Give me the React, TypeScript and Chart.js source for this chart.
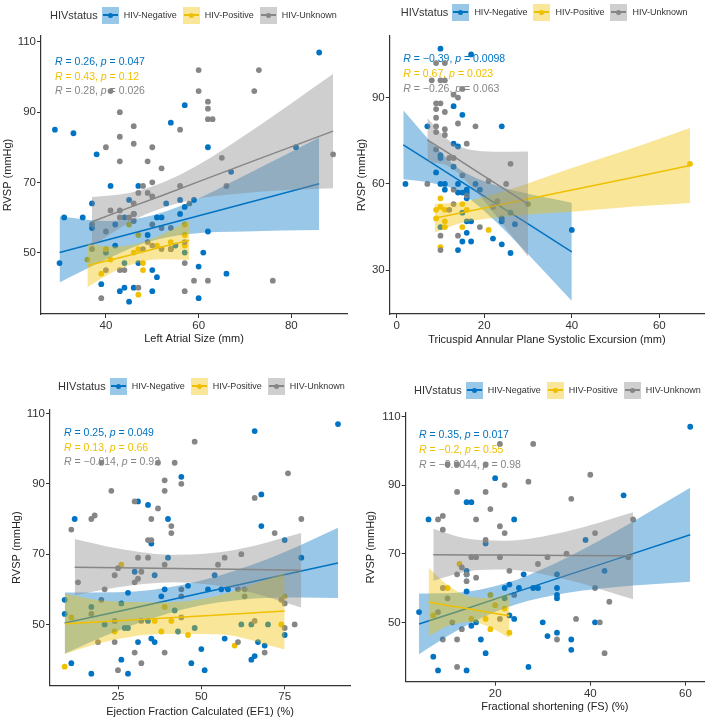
import React, { useEffect, useRef } from 'react';
import { Chart, registerables } from 'chart.js';
Chart.register(...registerables);

const FONT = '"Liberation Sans", Arial, sans-serif';
Chart.defaults.font.family = FONT;

const BLUE = '#0073C2';
const YELLOW = '#EFC000';
const GRAY = '#868686';
const BLUE_FILL = 'rgba(0,115,194,0.4)';
const YELLOW_FILL = 'rgba(239,192,0,0.4)';
const GRAY_FILL = 'rgba(134,134,134,0.4)';

const groupLabels = ['HIV-Negative', 'HIV-Positive', 'HIV-Unknown'];

// ---------- Panel 1: Left Atrial Size ----------
const p1Neg = [[29,85],[33,84],[38,78],[57,92],[54,87],[62,80],[86,107],[81,80],[67,73],[41,69],[47,69],[37,64],[31,60],[35,60],[45,65],[46,61],[44,60],[51,60],[52,60],[53,64],[56,65],[56,61],[59,65],[57,63],[62,56],[42,58],[37,57],[40,50],[49,55],[30,47],[47,47],[57,50],[61,50],[60,46],[50,45],[51,43],[66,44],[39,41],[44,40],[46,40],[43,39],[50,39],[45,36],[60,37],[42,52],[44,47],[54,51],[55,52]];
const p1Pos = [[45,58],[57,58],[57,55],[57,52],[47,55],[51,52],[40,51],[41,48],[47,51],[48,47],[39,44],[48,45],[47,38],[36,48],[54,53],[46,50]];
const p1Unk = [[60,102],[73,102],[60,96],[72,96],[41,96],[43,90],[62,93],[62,91],[62,88],[63,88],[56,85],[46,86],[43,83],[46,81],[40,80],[50,80],[43,76],[49,76],[52,74],[65,77],[89,78],[48,69],[50,70],[56,69],[66,69],[47,67],[49,67],[50,66],[46,64],[41,62],[43,62],[43,60],[45,60],[46,59],[40,56],[50,58],[52,57],[54,57],[37,58],[37,51],[48,51],[49,53],[50,52],[52,51],[54,51],[57,53],[40,45],[43,45],[44,45],[57,47],[59,42],[62,42],[76,42],[47,40],[39,37],[57,39],[46,61],[58,64]];
const p1NegFitX = [30, 40, 48, 58, 70, 86];
const p1NegFitY = [50, 53.5, 56.3, 59.8, 64, 69.6];
const p1NegLo = [41.5, 48.0, 52.6, 55.3, 56.0, 56.4];
const p1NegHi = [60.3, 59.0, 60.0, 64.3, 72.0, 82.8];
const p1PosFitX = [36, 41, 47, 52, 58];
const p1PosFitY = [46.3, 47.9, 49.9, 51.6, 53.5];
const p1PosLo = [40.1, 44.1, 47.2, 48.1, 47.9];
const p1PosHi = [52.5, 51.7, 52.6, 55.1, 59.1];
const p1UnkFitX = [37, 45, 52, 60, 72, 89];
const p1UnkFitY = [58.8, 62.8, 66.2, 70.2, 76.2, 84.6];
const p1UnkLo = [51.8, 58.6, 62.6, 65.4, 67.2, 68.3];
const p1UnkHi = [65.8, 67.0, 69.8, 75.0, 85.2, 100.9];
const p1XTicks = [40, 60, 80];
const p1YTicks = [50, 70, 90, 110];
const p1Stats = [['0.26', '0.047'], ['0.43', '0.12'], ['0.28', '0.026']];

// ---------- Panel 2: TAPSE ----------
const p2Neg = [[10,107],[17,105],[13,87],[15,84],[7,80],[24,80],[13,74],[14,73],[10,70],[10,69],[9,64],[13,66],[2,60],[10,60],[11,60],[11,58],[14,60],[14,57],[15,57],[16,58],[16,57],[16,55],[18,60],[19,58],[24,48],[24,47],[27,46],[40,44],[16,43],[15,40],[17,40],[22,41],[24,39],[14,37],[26,36],[10,45],[16,47],[17,47],[15,50],[26,50]];
const p2Pos = [[9,48],[10,55],[9,51],[10,52],[11,51],[11,47],[11,45],[15,53],[16,51],[15,45],[21,44],[10,38],[67,67]];
const p2Unk = [[9,102],[11,102],[8,96],[10,96],[11,96],[15,93],[13,91],[14,90],[9,88],[10,88],[9,86],[11,85],[9,83],[9,80],[14,81],[18,80],[9,78],[11,79],[11,77],[16,74],[9,72],[12,69],[13,69],[26,67],[15,63],[7,60],[21,61],[25,60],[13,58],[16,56],[30,53],[22,52],[23,54],[19,45],[10,42],[14,42],[10,37],[13,53],[12,51]];
const p2NegFitX = [1.5, 8, 14, 22, 30, 40];
const p2NegFitY = [73.6, 67.3, 61.5, 53.8, 46.1, 36.4];
const p2NegLo = [61.6, 60.3, 57.5, 47.8, 35.6, 19.3];
const p2NegHi = [85.6, 74.3, 65.5, 59.8, 56.6, 53.5];
const p2PosFitX = [8.7, 15, 25, 40, 55, 67];
const p2PosFitY = [48.1, 50.1, 53.2, 57.9, 62.6, 66.4];
const p2PosLo = [43.1, 46.5, 48.7, 50.3, 52.2, 53.4];
const p2PosHi = [53.1, 53.7, 57.7, 65.5, 73.0, 79.4];
const p2UnkFitX = [7, 12, 18, 24, 30];
const p2UnkFitY = [75.3, 70.5, 64.6, 58.8, 53.0];
const p2UnkLo = [67.7, 66.0, 57.6, 46.4, 34.7];
const p2UnkHi = [82.9, 75.0, 71.6, 71.2, 71.3];
const p2XTicks = [0, 20, 40, 60];
const p2YTicks = [30, 60, 90];
const p2Stats = [['\u22120.39', '0.0098'], ['0.67', '0.023'], ['\u22120.26', '0.063']];

// ---------- Panel 3: EF1 ----------
const p3Neg = [[12,80],[31,85],[34,84],[40,80],[44,92],[66,105],[68,87],[68,78],[91,107],[75,74],[35,73],[40,69],[80,69],[30,65],[36,64],[54,64],[39,60],[46,61],[52,60],[56,60],[58,60],[9,57],[28,59],[38,58],[26,56],[17,55],[21,50],[27,49],[28,49],[34,51],[42,54],[43,48],[48,49],[57,46],[62,50],[65,50],[67,45],[70,50],[69,44],[9,53],[31,45],[35,46],[36,45],[50,43],[75,47],[26,40],[66,41],[65,40],[11,39],[47,39],[51,37],[17,36],[28,36]];
const p3Pos = [[26,67],[11,52],[36,51],[39,55],[41,51],[24,48],[38,48],[46,47],[74,50],[60,44],[9,38],[75,58]];
const p3Unk = [[11,77],[17,80],[18,81],[20,96],[23,88],[30,85],[37,83],[35,80],[39,91],[39,88],[37,96],[42,96],[48,102],[44,90],[41,78],[41,76],[66,86],[72,76],[76,93],[80,80],[34,74],[35,74],[31,69],[34,69],[55,67],[57,69],[62,70],[39,67],[25,66],[24,64],[32,65],[31,63],[30,62],[13,62],[21,60],[44,60],[61,60],[63,60],[20,57],[44,58],[63,58],[74,57],[75,56],[17,53],[32,51],[24,51],[44,52],[66,51],[75,49],[78,50],[19,45],[24,45],[61,45],[30,42],[39,42],[69,42],[32,39],[25,37]];
const p3NegFitX = [9, 25, 45, 65, 80, 91];
const p3NegFitY = [50.4, 53.7, 57.9, 62.1, 65.2, 67.5];
const p3NegLo = [41.7, 48.2, 54.4, 57.3, 57.7, 57.5];
const p3NegHi = [59.1, 59.2, 61.4, 66.9, 72.7, 77.5];
const p3PosFitX = [9, 20, 38, 55, 75];
const p3PosFitY = [50.2, 50.8, 51.8, 52.7, 53.8];
const p3PosLo = [41.6, 44.8, 47.3, 47.2, 42.9];
const p3PosHi = [58.8, 56.8, 56.3, 58.2, 64.7];
const p3UnkFitX = [12, 25, 42, 60, 80];
const p3UnkFitY = [66.3, 66.1, 65.9, 65.7, 65.4];
const p3UnkLo = [58.3, 60.6, 62.0, 60.2, 54.8];
const p3UnkHi = [74.3, 71.6, 69.8, 71.2, 76.0];
const p3XTicks = [25, 50, 75];
const p3YTicks = [50, 70, 90, 110];
const p3Stats = [['0.25', '0.049'], ['0.13', '0.66'], ['\u22120.014', '0.92']];

// ---------- Panel 4: Fractional shortening ----------
const p4Neg = [[61,107],[20,92],[47,87],[14,85],[15,85],[6,80],[24,80],[39,74],[18,73],[14,65],[14,64],[26,64],[33,64],[43,65],[23,61],[22,60],[25,60],[28,60],[29,60],[33,60],[33,58],[33,57],[14,59],[22,57],[4,53],[15,49],[23,52],[24,51],[30,50],[41,50],[31,46],[33,47],[17,45],[36,45],[36,42],[7,40],[18,41],[8,36],[14,36],[27,37],[16,50]];
const p4Pos = [[12.5,67],[20,55],[19,58],[18,51],[15,51],[19,48],[23,47],[7,52],[10,60],[22,54]];
const p4Unk = [[21,102],[28,102],[10,96],[12,96],[18,96],[27,91],[22,90],[40,93],[12,88],[18,88],[36,86],[19,83],[8,80],[9,81],[16,80],[49,80],[9,77],[21,78],[22,76],[41,76],[18,74],[15,69],[16,69],[21,69],[31,69],[35,70],[48,69],[29,67],[13,66],[12,64],[14,64],[23,65],[14,62],[16,63],[41,60],[9,60],[10,57],[44,56],[24,58],[8,53],[11,50],[21,51],[37,51],[42,50],[13,48],[33,45],[9,45],[12,45],[43,41],[12,37]];
const p4NegFitX = [4, 12, 22, 32, 45, 61];
const p4NegFitY = [49.5, 53.1, 57.7, 62.3, 68.2, 75.5];
const p4NegLo = [40.7, 47.6, 54.1, 57.8, 60.2, 61.8];
const p4NegHi = [58.4, 58.6, 61.3, 66.8, 76.2, 89.2];
const p4PosFitX = [6, 10, 15, 19, 23];
const p4PosFitY = [55.9, 54.9, 53.8, 52.8, 51.9];
const p4PosLo = [45.9, 48.9, 50.2, 48.5, 45.4];
const p4PosHi = [65.9, 60.9, 57.4, 57.1, 58.4];
const p4UnkFitX = [7, 14, 22, 35, 49];
const p4UnkFitY = [69.7, 69.6, 69.6, 69.5, 69.4];
const p4UnkLo = [62.1, 64.8, 65.4, 62.5, 56.7];
const p4UnkHi = [77.3, 74.4, 73.8, 76.5, 82.1];
const p4XTicks = [20, 40, 60];
const p4YTicks = [50, 70, 90, 110];
const p4Stats = [['0.35', '0.017'], ['\u22120.2', '0.55'], ['\u22120.0044', '0.98']];

const W = 354;
const H = 360;

const panels = [
  {
    ox: 0, oy: 0, xTitle: 'Left Atrial Size (mm)',
    xMin: 26, xMax: 92, yMin: 32.5, yMax: 111.7, xTicks: p1XTicks, yTicks: p1YTicks,
    area: { left: 41, right: 347, top: 36, bottom: 314 }, yTitlePad: 1.7, xTitlePad: 14,
    legendLeft: 50, legendCy: 15, annX: 55, annY: [62, 77, 91], stats: p1Stats,
    pts: [p1Neg, p1Pos, p1Unk],
    fits: [[p1NegFitX, p1NegFitY, p1NegLo, p1NegHi], [p1PosFitX, p1PosFitY, p1PosLo, p1PosHi], [p1UnkFitX, p1UnkFitY, p1UnkLo, p1UnkHi]],
  },
  {
    ox: 354, oy: 0, xTitle: 'Tricuspid Annular Plane Systolic Excursion (mm)',
    xMin: -1.6, xMax: 70.2, yMin: 14.8, yMax: 111.4, xTicks: p2XTicks, yTicks: p2YTicks,
    area: { left: 35.7, right: 350, top: 36, bottom: 314 }, yTitlePad: 1, xTitlePad: 13.4,
    legendLeft: 46.7, legendCy: 12, annX: 49.3, annY: [59.3, 74, 89], stats: p2Stats,
    pts: [p2Neg, p2Pos, p2Unk],
    fits: [[p2NegFitX, p2NegFitY, p2NegLo, p2NegHi], [p2PosFitX, p2PosFitY, p2PosLo, p2PosHi], [p2UnkFitX, p2UnkFitY, p2UnkLo, p2UnkHi]],
  },
  {
    ox: 0, oy: 360, xTitle: 'Ejection Fraction Calculated (EF1) (%)',
    xMin: 4.6, xMax: 94.6, yMin: 32.7, yMax: 111, xTicks: p3XTicks, yTicks: p3YTicks,
    area: { left: 50, right: 353, top: 50, bottom: 325.3 }, yTitlePad: 10, xTitlePad: 1.7,
    legendLeft: 58, legendCy: 26, annX: 64, annY: [72.7, 87.7, 102.3], stats: p3Stats,
    pts: [p3Neg, p3Pos, p3Unk],
    fits: [[p3NegFitX, p3NegFitY, p3NegLo, p3NegHi], [p3PosFitX, p3PosFitY, p3PosLo, p3PosHi], [p3UnkFitX, p3UnkFitY, p3UnkLo, p3UnkHi]],
  },
  {
    ox: 354, oy: 360, xTitle: 'Fractional shortening (FS) (%)',
    xMin: 1.2, xMax: 63.9, yMin: 32.7, yMax: 111, xTicks: p4XTicks, yTicks: p4YTicks,
    area: { left: 51.7, right: 350, top: 53, bottom: 321.7 }, yTitlePad: 10, xTitlePad: 6.7,
    legendLeft: 60, legendCy: 30, annX: 65, annY: [75, 90, 105], stats: p4Stats,
    pts: [p4Neg, p4Pos, p4Unk],
    fits: [[p4NegFitX, p4NegFitY, p4NegLo, p4NegHi], [p4PosFitX, p4PosFitY, p4PosLo, p4PosHi], [p4UnkFitX, p4UnkFitY, p4UnkLo, p4UnkHi]],
  },
];

const COLORS = [BLUE, YELLOW, GRAY];
const FILLS = [BLUE_FILL, YELLOW_FILL, GRAY_FILL];

function toXY(xs: number[], ys: number[]) {
  return xs.map((x, i) => ({ x, y: ys[i] }));
}

function buildConfig(cfg: any): any {
  const datasets: any[] = [];
  cfg.pts.forEach((pts: number[][], g: number) => {
    datasets.push({
      type: 'line',
      label: groupLabels[g],
      data: pts.map((p) => ({ x: p[0], y: p[1] })),
      showLine: false,
      pointRadius: 2.9,
      pointBackgroundColor: COLORS[g],
      pointBorderColor: COLORS[g],
      pointBorderWidth: 0,
      order: 100 - g,
    });
  });
  cfg.fits.forEach((f: number[][], g: number) => {
    const [fx, fy, lo, hi] = f;
    const base = 30 - g * 3;
    datasets.push({
      type: 'line',
      data: toXY(fx, lo),
      borderColor: 'rgba(0,0,0,0)',
      borderWidth: 1,
      pointRadius: 0,
      fill: false,
      cubicInterpolationMode: 'monotone',
      order: base + 2,
    });
    datasets.push({
      type: 'line',
      data: toXY(fx, hi),
      borderColor: 'rgba(0,0,0,0)',
      borderWidth: 1,
      pointRadius: 0,
      fill: '-1',
      backgroundColor: FILLS[g],
      cubicInterpolationMode: 'monotone',
      order: base + 1,
    });
    datasets.push({
      type: 'line',
      data: toXY(fx, fy),
      borderColor: COLORS[g],
      borderWidth: 1.5,
      pointRadius: 0,
      fill: false,
      tension: 0,
      order: base,
    });
  });

  const axisCommon = {
    grid: { display: true, drawOnChartArea: false, drawTicks: true, tickLength: 4, color: '#333', lineWidth: 1 },
    border: { display: true, color: '#333', width: 1.2 },
  };

  const annPlugin = {
    id: 'annText',
    beforeDatasetsDraw(chart: any) {
      const ctx = chart.ctx;
      ctx.save();
      ctx.textBaseline = 'middle';
      ctx.textAlign = 'left';
      cfg.stats.forEach((s: string[], g: number) => {
        const y = cfg.annY[g];
        let x = cfg.annX;
        ctx.fillStyle = COLORS[g];
        const parts: [string, boolean][] = [
          ['R', true], [' = ' + s[0] + ', ', false], ['p', true], [' = ' + s[1], false],
        ];
        parts.forEach(([t, it]) => {
          ctx.font = (it ? 'italic ' : '') + '10.5px ' + FONT;
          ctx.fillText(t, x, y);
          x += ctx.measureText(t).width;
        });
      });
      ctx.restore();
    },
  };

  return {
    type: 'line',
    data: { datasets },
    plugins: [annPlugin],
    options: {
      responsive: false,
      animation: false,
      devicePixelRatio: 1,
      events: [],
      layout: { padding: { left: 0, top: cfg.area.top, right: W - cfg.area.right, bottom: 0 } },
      plugins: { legend: { display: false }, tooltip: { enabled: false } },
      scales: {
        x: {
          type: 'linear',
          min: cfg.xMin,
          max: cfg.xMax,
          ...axisCommon,
          afterBuildTicks: (s: any) => { s.ticks = cfg.xTicks.map((v: number) => ({ value: v })); },
          afterFit: (s: any) => { s.height = H - cfg.area.bottom; },
          ticks: { color: '#333', font: { size: 11.5 }, padding: 1, maxRotation: 0, autoSkip: false },
          title: { display: true, text: cfg.xTitle, color: '#222', font: { size: 11 }, padding: { top: 0, bottom: cfg.xTitlePad } },
        },
        y: {
          type: 'linear',
          min: cfg.yMin,
          max: cfg.yMax,
          ...axisCommon,
          afterBuildTicks: (s: any) => { s.ticks = cfg.yTicks.map((v: number) => ({ value: v })); },
          afterFit: (s: any) => { s.width = cfg.area.left; },
          ticks: { color: '#333', font: { size: 11.5 }, padding: 1 },
          title: { display: true, text: 'RVSP (mmHg)', color: '#222', font: { size: 11 }, padding: { top: cfg.yTitlePad, bottom: 0 } },
        },
      },
    },
  };
}

function Legend({ left, cy }: { left: number; cy: number }) {
  return (
    <div style={{ position: 'absolute', left, top: cy - 9, height: 18, display: 'flex', alignItems: 'center', fontFamily: FONT, whiteSpace: 'nowrap', color: '#333' }}>
      <span style={{ fontSize: 11, marginRight: 4 }}>HIVstatus</span>
      {groupLabels.map((label, i) => (
        <React.Fragment key={label}>
          <span style={{ position: 'relative', display: 'inline-block', width: 17, height: 17, background: FILLS[i] }}>
            <span style={{ position: 'absolute', left: 1, right: 1, top: 7.75, height: 1.5, background: COLORS[i] }} />
            <span style={{ position: 'absolute', left: 6, top: 6, width: 5, height: 5, borderRadius: '50%', background: COLORS[i] }} />
          </span>
          <span style={{ fontSize: 9, marginLeft: 5, marginRight: 6 }}>{label}</span>
        </React.Fragment>
      ))}
    </div>
  );
}

function Panel({ cfg }: { cfg: any }) {
  const ref = useRef<HTMLCanvasElement>(null);
  useEffect(() => {
    if (!ref.current) return;
    const chart = new Chart(ref.current, buildConfig(cfg));
    return () => chart.destroy();
  }, [cfg]);
  return (
    <div style={{ position: 'absolute', left: cfg.ox, top: cfg.oy, width: W, height: H }}>
      <canvas ref={ref} width={W} height={H} style={{ display: 'block', width: W, height: H }} />
      <Legend left={cfg.legendLeft} cy={cfg.legendCy} />
    </div>
  );
}

export default function App() {
  return (
    <div style={{ position: 'absolute', left: 0, top: 0, width: 708, height: 721, background: '#fff', overflow: 'hidden' }}>
      {panels.map((p, i) => (
        <Panel key={i} cfg={p} />
      ))}
    </div>
  );
}
